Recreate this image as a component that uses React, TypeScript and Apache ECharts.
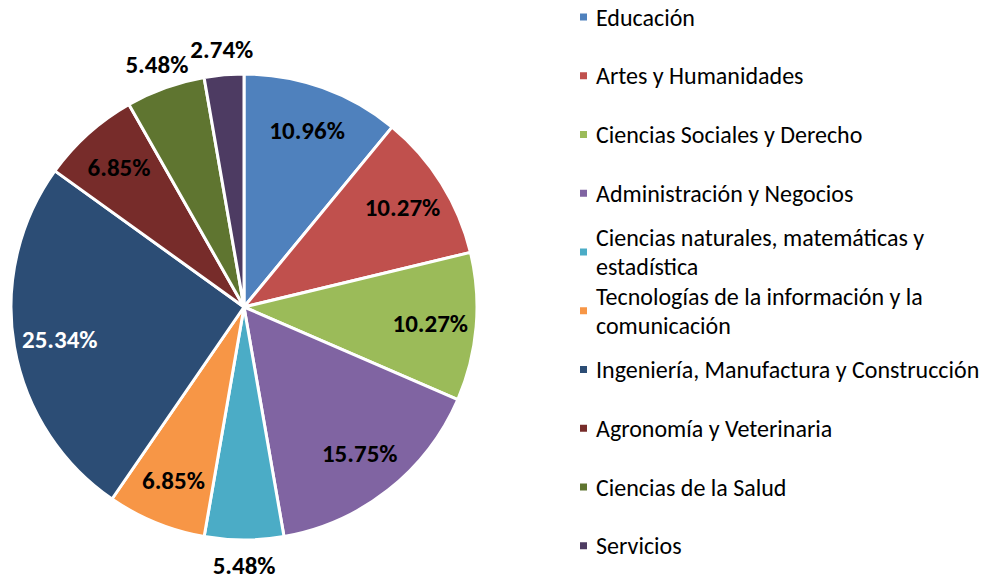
import React, { useEffect, useRef } from "react";
import * as echarts from "echarts";

const categories = [
  "Educación",
  "Artes y Humanidades",
  "Ciencias Sociales y Derecho",
  "Administración y Negocios",
  "Ciencias naturales, matemáticas y estadística",
  "Tecnologías de la información y la comunicación",
  "Ingeniería, Manufactura y Construcción",
  "Agronomía y Veterinaria",
  "Ciencias de la Salud",
  "Servicios",
];
const legendText = [
  "Educación",
  "Artes y Humanidades",
  "Ciencias Sociales y Derecho",
  "Administración y Negocios",
  "Ciencias naturales, matemáticas y\nestadística",
  "Tecnologías de la información y la\ncomunicación",
  "Ingeniería, Manufactura y Construcción",
  "Agronomía y Veterinaria",
  "Ciencias de la Salud",
  "Servicios",
];
const percentages = [10.96, 10.27, 10.27, 15.75, 5.48, 6.85, 25.34, 6.85, 5.48, 2.74];
const colors = ["#4F81BD", "#C0504D", "#9BBB59", "#8064A2", "#4BACC6", "#F79646", "#2C4D75", "#772C2A", "#5F7530", "#4D3B62"];
const labelColors = ["#000", "#000", "#000", "#000", "#000", "#000", "#fff", "#000", "#000", "#000"];
const labelOutside = [false, false, false, false, true, false, false, false, true, true];

const FONT = "Carlito, Lato, 'Open Sans', sans-serif";

export default function App() {
  const ref = useRef<HTMLDivElement>(null);
  useEffect(() => {
    if (!ref.current) return;
    const chart = echarts.init(ref.current, undefined, { renderer: "svg" });
    const cx = 244, cy = 307, R = 233;
    const L = 29;
    const legends = categories.map((name, i) => {
      const multi = legendText[i].includes("\n");
      const yc = 17 + i * 58.75;
      return {
        orient: "vertical",
        left: 578,
        top: multi ? yc - 1.5 * L : yc - L / 2,
        padding: 0,
        icon: "rect",
        itemWidth: 9,
        itemHeight: 9,
        selectedMode: false,
        data: [{ name }],
        formatter: () => legendText[i],
        textStyle: {
          fontFamily: FONT,
          fontSize: 24,
          lineHeight: L,
          color: "#000",
          padding: multi ? [L, 0, 0, 3] : [0, 0, 0, 3],
        },
      };
    });
    const labelFor = (showInside: boolean) =>
      percentages.map((v, i) => ({
        name: categories[i],
        value: v,
        label: {
          show: showInside ? !labelOutside[i] : labelOutside[i],
          color: labelColors[i],
        },
      }));
    const labelStyle = {
      fontFamily: FONT,
      fontWeight: "bold",
      fontSize: 25,
      formatter: (p: any) => p.value.toFixed(2) + "%",
    };
    chart.setOption({
      animation: false,
      color: colors,
      legend: legends,
      series: [
        {
          type: "pie",
          center: [cx, cy],
          radius: R,
          startAngle: 90,
          clockwise: true,
          silent: true,
          itemStyle: { borderColor: "#fff", borderWidth: 3 },
          label: { show: false },
          labelLine: { show: false },
          data: percentages.map((v, i) => ({ name: categories[i], value: v })),
        },
        {
          type: "pie",
          center: [cx, cy],
          radius: [135, R],
          startAngle: 90,
          silent: true,
          itemStyle: { color: "rgba(0,0,0,0)", borderWidth: 0 },
          label: { position: "inside", ...labelStyle },
          labelLine: { show: false },
          data: labelFor(true),
        },
        {
          type: "pie",
          center: [cx, cy],
          radius: [248, 262],
          startAngle: 90,
          silent: true,
          itemStyle: { color: "rgba(0,0,0,0)", borderWidth: 0 },
          label: { position: "inside", ...labelStyle },
          labelLine: { show: false },
          data: labelFor(false),
        },
      ],
    });
    return () => chart.dispose();
  }, []);
  return (
    <div
      ref={ref}
      style={{ position: "fixed", left: 0, top: 0, width: 982, height: 580, background: "#fff" }}
    />
  );
}
